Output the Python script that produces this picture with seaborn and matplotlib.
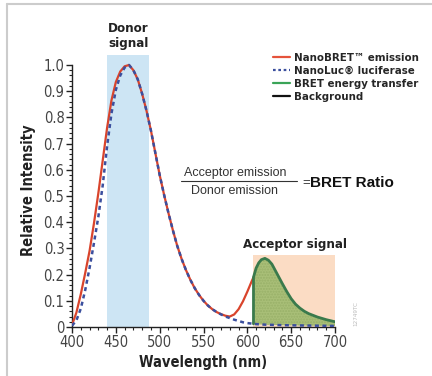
import numpy as np
import pandas as pd
import matplotlib
matplotlib.use("Agg")
import matplotlib.pyplot as plt
import seaborn as sns
from matplotlib.lines import Line2D
from matplotlib.ticker import MultipleLocator, FixedLocator

# ---------------- data ----------------
red_wl = [400, 405, 410, 415, 420, 425, 430, 435, 440, 445, 450, 455, 460, 465,
          470, 475, 480, 485, 490, 495, 500, 505, 510, 515, 520, 525, 530, 535, 540,
          545, 550, 555, 560, 565, 570, 575, 580, 585, 590, 595, 600, 605, 607]
red_val = [0.008, 0.055, 0.125, 0.205, 0.29, 0.395, 0.51, 0.635, 0.76, 0.865, 0.935, 0.975, 0.995, 1.0,
           0.98, 0.945, 0.89, 0.825, 0.75, 0.665, 0.58, 0.505, 0.435, 0.37, 0.31, 0.26, 0.217, 0.18, 0.148,
           0.122, 0.10, 0.082, 0.068, 0.057, 0.049, 0.043, 0.040, 0.048, 0.068, 0.098, 0.135, 0.175, 0.19]

blue_wl = [400, 405, 410, 415, 420, 425, 430, 435, 440, 445, 450, 455, 460, 465,
           470, 475, 480, 485, 490, 495, 500, 505, 510, 515, 520, 525, 530, 535, 540,
           545, 550, 555, 560, 565, 570, 575, 580, 585, 590, 595, 600, 610, 620, 640, 660, 680, 700]
blue_val = [0.005, 0.025, 0.07, 0.14, 0.225, 0.32, 0.42, 0.54, 0.69, 0.815, 0.905, 0.96, 0.99, 1.0,
            0.98, 0.945, 0.89, 0.825, 0.75, 0.665, 0.58, 0.505, 0.435, 0.37, 0.31, 0.26, 0.217, 0.18, 0.148,
            0.122, 0.10, 0.082, 0.068, 0.057, 0.048, 0.040, 0.034, 0.028, 0.023, 0.018, 0.015, 0.011,
            0.009, 0.007, 0.006, 0.005, 0.004]

green_wl = [607, 607.01, 610, 613, 616, 620, 624, 628, 632, 636, 640, 645, 650, 655, 660, 665, 670,
            680, 690, 700]
green_val = [0.012, 0.19, 0.225, 0.245, 0.257, 0.262, 0.255, 0.24, 0.215, 0.19, 0.165, 0.135, 0.108,
             0.087, 0.072, 0.06, 0.051, 0.038, 0.028, 0.02]

legend_labels = ["NanoBRET\u2122 emission", "NanoLuc\u00ae luciferase", "BRET energy transfer", "Background"]
y_ticks = [0, 0.1, 0.2, 0.3, 0.4, 0.5, 0.6, 0.7, 0.8, 0.9, 1.0]
y_ticklabels = ["0", "0.1", "0.2", "0.3", "0.4", "0.5", "0.6", "0.7", "0.8", "0.9", "1.0"]
x_ticks = [400, 450, 500, 550, 600, 650, 700]
donor_band = (440, 488)
acceptor_band = (607, 700)

# ---------------- style ----------------
sns.set_theme(style="white")
plt.rcParams["font.family"] = ["DejaVu Sans"]
plt.rcParams["font.stretch"] = "condensed"
COND = dict(family=["DejaVu Sans"], stretch="condensed")

RED = "#d9442c"
BLUE = "#3b4f9e"
GREEN_LINE = "#3a7a4c"
GREEN_FILL = "#a9bf78"
BAND_BLUE = "#cde5f4"
BAND_PEACH = "#fbdcc4"

fig = plt.figure(figsize=(4.32, 3.76), dpi=100)
ax = fig.add_axes([0.1667, 0.1303, 0.6088, 0.7282])

# bands
ax.axvspan(*donor_band, ymin=0, ymax=1.04 / 1.045, color=BAND_BLUE, lw=0, zorder=0)
ax.axvspan(*acceptor_band, ymin=0, ymax=0.275 / 1.045, color=BAND_PEACH, lw=0, zorder=0)

df_red = pd.DataFrame({"wl": red_wl, "val": red_val})
df_blue = pd.DataFrame({"wl": blue_wl, "val": blue_val})
df_green = pd.DataFrame({"wl": green_wl, "val": green_val})

# green fill between blue baseline and acceptor curve
gw = np.array(green_wl)
blue_at_g = np.interp(gw, blue_wl, blue_val)
ax.fill_between(gw, blue_at_g, green_val, color=GREEN_FILL, lw=0, zorder=1, hatch="......",
                edgecolor="#98b068")

sns.lineplot(data=df_red, x="wl", y="val", color=RED, lw=1.6, ax=ax, zorder=3, sort=False)
sns.lineplot(data=df_green, x="wl", y="val", color=GREEN_LINE, lw=2.0, ax=ax, zorder=3, sort=False)
sns.lineplot(data=df_blue, x="wl", y="val", color=BLUE, lw=1.8, ax=ax, zorder=4, sort=False,
             linestyle=(0, (1.6, 1.4)))

ax.set_xlim(400, 700)
ax.set_ylim(0, 1.045)
ax.spines["left"].set_bounds(0, 1.0)
for s in ["top", "right"]:
    ax.spines[s].set_visible(False)
for s in ["left", "bottom"]:
    ax.spines[s].set_color("#222222")
    ax.spines[s].set_linewidth(1.0)

ax.xaxis.set_major_locator(FixedLocator(x_ticks))
ax.xaxis.set_minor_locator(MultipleLocator(10))
ax.yaxis.set_major_locator(FixedLocator(y_ticks))
ax.set_yticklabels(y_ticklabels)
ax.yaxis.set_minor_locator(FixedLocator(np.arange(0, 1.001, 0.02)))
ax.tick_params(axis="both", which="major", direction="out", length=4, width=1, color="#222222",
               labelsize=10.5, labelcolor="#444444", pad=1.5, bottom=True, left=True)
ax.tick_params(axis="both", which="minor", direction="out", length=2, width=0.8, color="#222222",
               bottom=True, left=True)
for lab in ax.get_xticklabels() + ax.get_yticklabels():
    lab.set_fontstretch("condensed")

ax.set_xlabel("Wavelength (nm)", fontsize=10.5, fontweight="bold", color="#222222", labelpad=4, **COND)
ax.set_ylabel("Relative Intensity", fontsize=10.5, fontweight="bold", color="#222222", labelpad=5, **COND)

# legend
handles = [
    Line2D([], [], color="#e5533b", lw=1.6),
    Line2D([], [], color=BLUE, lw=1.6, linestyle=(0, (1.2, 1.2))),
    Line2D([], [], color="#3aa457", lw=1.6),
    Line2D([], [], color="#111111", lw=1.6),
]
fig.legend(handles, legend_labels, loc="upper left", bbox_to_anchor=(0.622, 0.872), frameon=False,
           handlelength=1.45, handletextpad=0.35, labelspacing=0.28, borderaxespad=0,
           prop={"family": ["DejaVu Sans"], "stretch": "condensed", "weight": "bold", "size": 8.2})

# annotations
ax.text(464, 1.11, "Donor\nsignal", ha="center", va="center", fontsize=9.5, fontweight="bold",
        color="#222222", clip_on=False, linespacing=1.15, **COND)
ax.text(654, 0.315, "Acceptor signal", ha="center", va="center", fontsize=9.5, fontweight="bold",
        color="#222222", **COND)

FORM = dict(family=["Liberation Sans", "DejaVu Sans"], stretch="normal")
fig.text(0.5437, 0.541, "Acceptor emission", ha="center", va="center", fontsize=9, color="#333333", **FORM)
fig.text(0.5437, 0.492, "Donor emission", ha="center", va="center", fontsize=9, color="#333333", **FORM)
fig.add_artist(Line2D([0.418, 0.688], [0.518, 0.518], color="#333333", lw=0.8))
fig.text(0.699, 0.512, "=", ha="left", va="center", fontsize=9.5, color="#333333", **FORM)
fig.text(0.718, 0.512, "BRET Ratio", ha="left", va="center", fontsize=11, fontweight="bold",
         color="#111111", **FORM)

fig.text(0.823, 0.165, "12749TC", rotation=90, ha="center", va="center", fontsize=4.5, color="#bbbbbb")

# frame lines
fig.add_artist(Line2D([0.016, 0.016], [0.0, 0.99], color="#cccccc", lw=1.5))
fig.add_artist(Line2D([0.016, 1.0], [0.99, 0.99], color="#cccccc", lw=1.5))

fig.savefig("out.png", dpi=100)
